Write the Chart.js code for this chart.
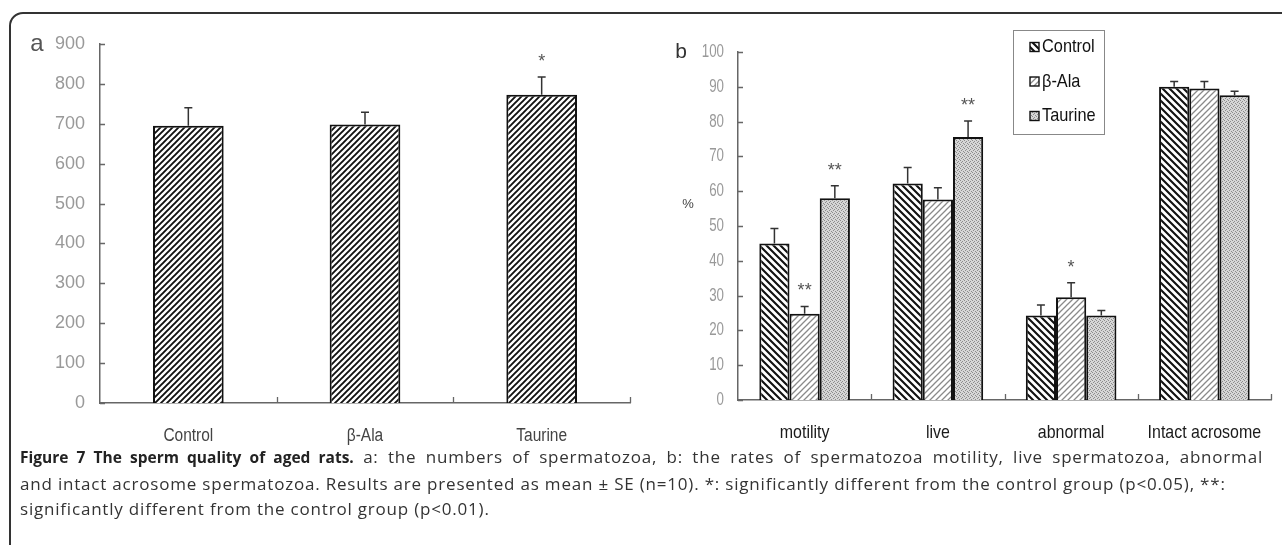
<!DOCTYPE html>
<html>
<head>
<meta charset="utf-8">
<script src="https://cdn.jsdelivr.net/npm/chart.js@4.4.1/dist/chart.umd.min.js"></script>
<style>
  html, body { margin:0; padding:0; background:#fff; width:1282px; height:545px; overflow:hidden; }
  #frame { position:absolute; left:9px; top:12px; width:1320px; height:600px; border:2px solid #333; border-radius:14px; box-sizing:border-box; }
  canvas { position:absolute; top:0; }
  #cA { left:0; }
  #cB { left:640px; }
  #caption { position:absolute; left:20px; top:444px; width:1243px; font-family:"Open Sans", sans-serif; font-size:17px; letter-spacing:0.8px; line-height:25.5px; color:#333; }
  #caption .l { display:block; white-space:nowrap; }
  #caption .j { text-align:justify; text-align-last:justify; white-space:normal; }
  #caption b { color:#222; font-size:15.5px; letter-spacing:0; }
</style>
</head>
<body>
<div id="frame"></div>
<canvas id="cA" width="640" height="460"></canvas>
<canvas id="cB" width="642" height="460"></canvas>
<div id="caption"><span class="l j"><b>Figure 7 The sperm quality of aged rats.</b> a: the numbers of spermatozoa, b: the rates of spermatozoa motility, live spermatozoa, abnormal</span><span class="l">and intact acrosome spermatozoa. Results are presented as mean ± SE (n=10). *: significantly different from the control group (p&lt;0.05), **:</span><span class="l">significantly different from the control group (p&lt;0.01).</span></div>
<script>
// ---- data: panel a ----
const groupsA = ['Control', 'β-Ala', 'Taurine'];
const countMean = [695, 698, 773];
const countSE = [45, 31, 44];
const countSig = ['', '', '*'];
const axisA = { min: 0, max: 900, step: 100 };

// ---- data: panel b ----
const groupsB = ['motility', 'live', 'abnormal', 'Intact acrosome'];
const seriesNames = ['Control', 'β-Ala', 'Taurine'];
const controlMean = [45.0, 62.2, 24.3, 90.0];
const controlSE   = [4.3, 4.6, 3.0, 1.5];
const betaMean    = [24.8, 57.6, 29.5, 89.5];
const betaSE      = [2.1, 3.4, 4.2, 2.0];
const taurineMean = [58.0, 75.6, 24.3, 87.6];
const taurineSE   = [3.6, 4.6, 1.4, 1.1];
const controlSig  = ['', '', '', ''];
const betaSig     = ['**', '', '*', ''];
const taurineSig  = ['**', '**', '', ''];
const axisB = { min: 0, max: 100, step: 10 };

const panelLabelA = 'a';
const panelLabelB = 'b';
const unitB = '%';

// ---- patterns ----
function makePattern(size, draw) {
  const c = document.createElement('canvas');
  c.width = size; c.height = size;
  const g = c.getContext('2d');
  draw(g, size);
  return g.createPattern(c, 'repeat');
}
function fwdHatch(color, bg, w) {
  return (g, s) => {
    g.fillStyle = bg; g.fillRect(0, 0, s, s);
    g.strokeStyle = color; g.lineWidth = w;
    g.beginPath();
    g.moveTo(-1, s + 1); g.lineTo(s + 1, -1);
    g.moveTo(-1, 1); g.lineTo(1, -1);
    g.moveTo(s - 1, s + 1); g.lineTo(s + 1, s - 1);
    g.stroke();
  };
}
function backHatch(color, bg, w) {
  return (g, s) => {
    g.fillStyle = bg; g.fillRect(0, 0, s, s);
    g.strokeStyle = color; g.lineWidth = w;
    g.beginPath();
    g.moveTo(-1, -1); g.lineTo(s + 1, s + 1);
    g.moveTo(s - 1, -1); g.lineTo(s + 1, 1);
    g.moveTo(-1, s - 1); g.lineTo(1, s + 1);
    g.stroke();
  };
}
const patA = makePattern(6, fwdHatch('#111', '#fff', 1.9));
const patCtrl = makePattern(7, backHatch('#111', '#fff', 2.1));
const patBeta = makePattern(6, fwdHatch('#8a8a8a', '#fff', 1.3));
const patTau = makePattern(4, (g, s) => {
  g.fillStyle = '#d6d6d6'; g.fillRect(0, 0, s, s);
  g.fillStyle = '#8c8c8c';
  g.fillRect(0, 0, 1, 1); g.fillRect(2, 1, 1, 1); g.fillRect(1, 2, 1, 1); g.fillRect(3, 3, 1, 1);
});

// condensed text helper
function cText(ctx, text, x, y, align, sx, font, color) {
  ctx.save();
  ctx.translate(x, y);
  ctx.scale(sx, 1);
  ctx.font = font; ctx.fillStyle = color;
  ctx.textAlign = align; ctx.textBaseline = 'middle';
  ctx.fillText(text, 0, 0);
  ctx.restore();
}

// ---- plugin: error bars, significance marks, ticks, labels, legend ----
const decor = {
  id: 'decor',
  afterDatasetsDraw(chart, args, o) {
    const ctx = chart.ctx;
    const ys = chart.scales.y, xs = chart.scales.x;
    ctx.save();
    chart.data.datasets.forEach((ds, di) => {
      const meta = chart.getDatasetMeta(di);
      meta.data.forEach((bar, i) => {
        const top = ys.getPixelForValue(ds.data[i] + ds.se[i]);
        ctx.strokeStyle = '#333'; ctx.lineWidth = 1.5;
        ctx.beginPath();
        ctx.moveTo(bar.x, bar.y); ctx.lineTo(bar.x, top);
        ctx.moveTo(bar.x - 4, top); ctx.lineTo(bar.x + 4, top);
        ctx.stroke();
        const s = ds.sig[i];
        if (s) cText(ctx, s, bar.x, top - 15, 'center', 1, '18px "Liberation Sans", sans-serif', '#555');
      });
    });
    // inward ticks
    ctx.strokeStyle = '#666'; ctx.lineWidth = 1.3;
    ctx.beginPath();
    ys.ticks.forEach(t => {
      const y = Math.round(ys.getPixelForValue(t.value)) + 0.5;
      ctx.moveTo(ys.right, y); ctx.lineTo(ys.right + 5, y);
    });
    const n = xs.getLabels().length;
    for (let k = 1; k <= n; k++) {
      const x = Math.round(xs.left + k * (xs.right - xs.left) / n) + 0.5;
      ctx.moveTo(x, xs.top); ctx.lineTo(x, xs.top - 6);
    }
    ctx.stroke();
    // tick labels from the scales
    ys.ticks.forEach(t => {
      cText(ctx, t.label, ys.right - o.yPad, ys.getPixelForValue(t.value), 'right', o.ySx, o.yFont, o.yColor);
    });
    xs.getLabels().forEach((lab, i) => {
      cText(ctx, lab, xs.getPixelForTick(i), xs.top + o.xOff, 'center', o.xSx, o.xFont, o.xColor);
    });
    // panel letter & unit
    cText(ctx, o.letter, o.letterX, o.letterY, 'center', 1, o.letterFont, o.letterColor);
    if (o.unit) cText(ctx, o.unit, o.unitX, o.unitY, 'center', 1, '13px "Liberation Sans", sans-serif', '#444');
    // legend
    if (o.legend) {
      const L = o.legend;
      ctx.strokeStyle = '#888'; ctx.lineWidth = 1;
      ctx.strokeRect(L.x + 0.5, L.y + 0.5, L.w, L.h);
      chart.data.datasets.forEach((ds, di) => {
        const cy = L.y + 17 + di * 34.5;
        ctx.fillStyle = ds.backgroundColor;
        ctx.fillRect(L.x + 17, cy - 4.5, 9, 9);
        ctx.strokeStyle = '#111'; ctx.lineWidth = 1.4;
        ctx.strokeRect(L.x + 17, cy - 4.5, 9, 9);
        cText(ctx, ds.label, L.x + 29, cy, 'left', 0.86, '19px "Liberation Sans", sans-serif', '#111');
      });
    }
    ctx.restore();
  }
};

// ---- panel a ----
new Chart(document.getElementById('cA'), {
  type: 'bar',
  data: {
    labels: groupsA,
    datasets: [{
      label: 'count', data: countMean, se: countSE, sig: countSig,
      backgroundColor: patA, borderColor: '#111', borderWidth: 2, borderSkipped: 'bottom',
      categoryPercentage: 0.4, barPercentage: 1.0
    }]
  },
  options: {
    responsive: false, animation: false, devicePixelRatio: 1,
    layout: { padding: { top: 44, right: 10, left: 0, bottom: 0 } },
    plugins: {
      legend: { display: false }, tooltip: { enabled: false },
      decor: { letter: panelLabelA, letterX: 37, letterY: 44, letterColor: '#555',
               letterFont: '24px "Liberation Sans", sans-serif',
               yPad: 15, ySx: 1, yFont: '18px "Liberation Sans", sans-serif', yColor: '#999',
               xOff: 33, xSx: 0.86, xFont: '18px "Liberation Sans", sans-serif', xColor: '#444' }
    },
    scales: {
      x: {
        grid: { display: false, drawTicks: false },
        border: { display: true, color: '#666', width: 1.5 },
        ticks: { display: false },
        afterFit(s) { s.height = 57; }
      },
      y: {
        min: axisA.min, max: axisA.max,
        grid: { display: false, drawTicks: false },
        border: { display: true, color: '#666', width: 1.5 },
        ticks: { stepSize: axisA.step, display: false },
        afterFit(s) { s.width = 100; }
      }
    }
  },
  plugins: [decor]
});

// ---- panel b ----
new Chart(document.getElementById('cB'), {
  type: 'bar',
  data: {
    labels: groupsB,
    datasets: [
      { label: seriesNames[0], data: controlMean, se: controlSE, sig: controlSig, backgroundColor: patCtrl },
      { label: seriesNames[1], data: betaMean, se: betaSE, sig: betaSig, backgroundColor: patBeta },
      { label: seriesNames[2], data: taurineMean, se: taurineSE, sig: taurineSig, backgroundColor: patTau }
    ].map(d => Object.assign(d, { borderColor: '#111', borderWidth: 2, borderSkipped: 'bottom', categoryPercentage: 0.68, barPercentage: 1.0 }))
  },
  options: {
    responsive: false, animation: false, devicePixelRatio: 1,
    layout: { padding: { top: 52, right: 11, left: 0, bottom: 0 } },
    plugins: {
      legend: { display: false }, tooltip: { enabled: false },
      decor: { letter: panelLabelB, letterX: 41, letterY: 52, letterColor: '#333',
               letterFont: '21px "Liberation Sans", sans-serif',
               unit: unitB, unitX: 48, unitY: 204,
               legend: { x: 373, y: 30, w: 91, h: 104 },
               yPad: 14, ySx: 0.74, yFont: '18px "Liberation Sans", sans-serif', yColor: '#999',
               xOff: 33, xSx: 0.84, xFont: '19px "Liberation Sans", sans-serif', xColor: '#1a1a1a' }
    },
    scales: {
      x: {
        grid: { display: false, drawTicks: false },
        border: { display: true, color: '#666', width: 1.5 },
        ticks: { display: false },
        afterFit(s) { s.height = 60; }
      },
      y: {
        min: axisB.min, max: axisB.max,
        grid: { display: false, drawTicks: false },
        border: { display: true, color: '#666', width: 1.5 },
        ticks: { stepSize: axisB.step, display: false },
        afterFit(s) { s.width = 98; }
      }
    }
  },
  plugins: [decor]
});
</script>
</body>
</html>
